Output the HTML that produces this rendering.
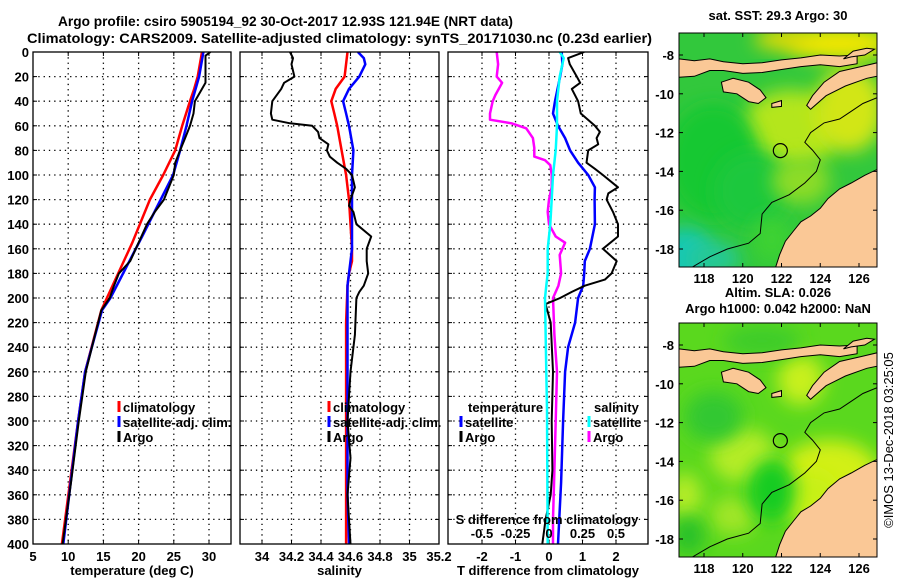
<!DOCTYPE html>
<html><head><meta charset="utf-8"><style>
html,body{margin:0;padding:0;background:#fff;}
svg{display:block;font-family:"Liberation Sans",Arial,sans-serif;font-weight:bold;}
</style></head><body>
<svg id="fig" width="900" height="580" viewBox="0 0 900 580" xmlns="http://www.w3.org/2000/svg">
<defs>
<filter id="blur8" x="-50%" y="-50%" width="200%" height="200%"><feGaussianBlur stdDeviation="9"/></filter>
<clipPath id="clipMap1"><rect x="679" y="33" width="198" height="234"/></clipPath>
<clipPath id="clipMap2"><rect x="679" y="323" width="198" height="234"/></clipPath>
<clipPath id="clipP1"><rect x="33" y="52" width="198" height="492"/></clipPath>
<clipPath id="clipP2"><rect x="240" y="52" width="199" height="492"/></clipPath>
<clipPath id="clipP3"><rect x="448" y="52" width="200" height="492"/></clipPath>
</defs>
<text x="58" y="26" font-size="14" textLength="455" lengthAdjust="spacingAndGlyphs">Argo profile: csiro 5905194_92 30-Oct-2017 12.93S 121.94E (NRT data)</text>
<text x="27" y="43" font-size="14" textLength="625" lengthAdjust="spacingAndGlyphs">Climatology: CARS2009. Satellite-adjusted climatology: synTS_20171030.nc (0.23d earlier)</text>
<g id="root"></g>
</svg>
<script>
// ---------- data (depth in m) ----------
const tClimDepth = [0,20,30,40,60,80,100,120,155,200,210,260,300,400];
const tClimVal   = [29.0,28.4,27.9,27.3,26.2,25.2,23.5,21.6,19.1,15.5,14.7,12.4,11.4,9.1];
const tSatDepth  = [0,20,40,60,80,100,150,200,210,260,300,400];
const tSatVal    = [29.2,28.6,27.6,26.8,25.9,24.9,20.5,16.0,14.8,12.4,11.4,9.3];
const tArgoDepth = [0,3,10,20,25,30,40,50,60,70,80,90,100,110,120,130,140,155,170,180,190,200,210,230,260,300,350,400];
const tArgoVal   = [30.2,29.5,29.5,29.5,29.5,29.0,28.0,27.8,27.3,26.6,25.9,25.2,25.0,24.3,23.6,22.3,21.2,20.0,18.8,17.2,16.5,15.9,14.7,13.8,12.5,11.5,10.4,9.2];

const sClimDepth = [0,20,30,40,50,60,80,100,120,140,160,170,180,190,220,300,400];
const sClimVal   = [34.58,34.56,34.50,34.47,34.49,34.51,34.54,34.57,34.59,34.60,34.61,34.61,34.59,34.58,34.57,34.57,34.57];
const sSatDepth  = [0,5,10,20,30,40,50,60,80,100,160,180,190,250,360,400];
const sSatVal    = [34.65,34.69,34.70,34.66,34.59,34.55,34.57,34.59,34.62,34.61,34.61,34.59,34.58,34.58,34.58,34.59];
const sArgoDepth = [0,5,10,20,25,30,40,50,55,58,60,65,70,75,80,85,90,95,100,110,120,125,130,140,150,160,170,180,190,195,200,230,260,300,330,360,380,400];
const sArgoVal   = [34.19,34.21,34.20,34.22,34.15,34.13,34.07,34.06,34.07,34.19,34.34,34.38,34.39,34.45,34.44,34.46,34.51,34.57,34.61,34.63,34.60,34.59,34.62,34.64,34.74,34.71,34.71,34.72,34.69,34.66,34.64,34.63,34.60,34.58,34.60,34.58,34.59,34.60];

const dtSatDepth  = [0,10,20,40,50,60,70,80,90,100,110,120,140,160,170,180,190,200,220,240,260,300,350,400];
const dtSatVal    = [0.38,0.40,0.33,0.18,0.12,0.27,0.48,0.63,0.87,1.17,1.37,1.36,1.37,1.22,1.07,1.05,1.02,0.87,0.78,0.57,0.48,0.42,0.36,0.27];
const dtArgoDepth = [0,5,10,20,25,30,40,50,60,65,70,75,80,90,95,100,110,115,120,130,140,150,160,170,180,185,190,195,200,205,220,260,300,340,360,380,400];
const dtArgoVal   = [1.05,0.57,0.62,0.83,0.93,0.68,0.87,0.95,1.37,1.52,1.42,1.47,1.17,1.12,1.37,1.61,2.06,1.77,1.72,1.91,2.06,2.06,1.61,2.02,1.87,1.67,1.07,0.68,0.33,-0.10,0.05,0.12,0.08,0.10,0.05,-0.10,-0.20];
const dsSatDepth  = [0,5,20,40,60,80,100,120,140,160,180,190,200,260,290,400];
const dsSatVal    = [0.08,0.11,0.08,0.06,0.06,0.05,0.03,0.02,0.01,-0.01,-0.01,-0.02,-0.03,-0.02,-0.015,-0.01];
const dsArgoDepth = [0,10,20,25,35,40,50,55,58,62,70,78,85,88,92,100,110,120,130,140,150,155,165,180,190,200,230,260,300,340,380,400];
const dsArgoVal   = [-0.39,-0.38,-0.39,-0.35,-0.40,-0.42,-0.44,-0.44,-0.28,-0.17,-0.12,-0.11,-0.11,-0.03,0.01,0.02,0.02,0.0,-0.01,0.0,0.05,0.12,0.08,0.09,0.07,0.03,0.04,0.06,0.05,0.04,0.03,0.03];

const depthTicks = [0,20,40,60,80,100,120,140,160,180,200,220,240,260,280,300,320,340,360,380,400];
const tTicks = [5,10,15,20,25,30];
const sTicks = [34,34.2,34.4,34.6,34.8,35,35.2];
const dtTicks = [-2,-1,0,1,2];
const dsTicks = [-0.5,-0.25,0,0.25,0.5];
const dsTickLabels = ["-0.5","-0.25","0","0.25","0.5"];
const lonTicks = [118,120,122,124,126];
const latTicks = [-8,-10,-12,-14,-16,-18];

// ---------- helpers ----------
const NS="http://www.w3.org/2000/svg";
const root=document.getElementById('root');
function mk(tag,attrs,parent){const e=document.createElementNS(NS,tag);for(const k in attrs)e.setAttribute(k,attrs[k]);(parent||root).appendChild(e);return e;}
const Y0=52,Y1=544;
function yD(d){return Y0+(d/400)*(Y1-Y0);}
function linScale(v0,v1,p0,p1){return v=>p0+(v-v0)/(v1-v0)*(p1-p0);}
const xT=linScale(5,30,33,209);
const xS=linScale(34,35.2,262,439);
const xDT=linScale(0,1,549,582.5);
const xDS=v=>xDT(v*4);

function panel(name,x0,x1,xs,ticks,tickLabels,clip,xlabel,yLabels){
  const g=mk('g',{});
  
  
  ticks.forEach(t=>{const x=xs(t); if(x>x0+1&&x<x1-1){const l=mk('line',{x1:x,y1:Y0,x2:x,y2:Y1,stroke:'#000','stroke-width':1.3,'stroke-dasharray':'1.3 4'},g);
    }});
  depthTicks.forEach(d=>{const y=yD(d); if(d>0&&d<400){const l=mk('line',{x1:x0,y1:y,x2:x1,y2:y,stroke:'#000','stroke-width':1.3,'stroke-dasharray':'1.3 4'},g);
    }
    mk('line',{x1:x0,y1:y,x2:x0+4,y2:y,stroke:'#000'},g);mk('line',{x1:x1-4,y1:y,x2:x1,y2:y,stroke:'#000'},g);
    if(yLabels){const t=mk('text',{x:x0-4,y:y+5,'font-size':13,'text-anchor':'end'},g);t.textContent=d;
      }
  });
  ticks.forEach((t,i)=>{const x=xs(t);mk('line',{x1:x,y1:Y1,x2:x,y2:Y1-4,stroke:'#000'},g);mk('line',{x1:x,y1:Y0,x2:x,y2:Y0+4,stroke:'#000'},g);
    const tx=mk('text',{x:x,y:Y1+17,'font-size':13,'text-anchor':'middle'},g);tx.textContent=tickLabels[i];
    });
  const xl=mk('text',{x:(x0+x1)/2,y:575,'font-size':13,'text-anchor':'middle'},g);xl.textContent=xlabel;
  
  return g;
}
function series(g,name,depths,vals,xs,color,w,clip){
  const pts=depths.map((d,i)=>xs(vals[i]).toFixed(1)+','+yD(d).toFixed(1)).join(' ');
  const p=mk('polyline',{points:pts,fill:'none',stroke:color,'stroke-width':w,'stroke-linejoin':'round','clip-path':'url(#'+clip+')'},g);
  
  
}
function frame(g,x0,x1){const r=mk('rect',{x:x0,y:Y0,width:x1-x0,height:Y1-Y0,fill:'none',stroke:'#000','stroke-width':1.3},g);
  }
function legendEntry(g,x,y,color,label,name){
  const lg=mk('g',{},g);
  
  
  mk('line',{x1:x,y1:y-11,x2:x,y2:y,stroke:color,'stroke-width':3},lg);
  const t=mk('text',{x:x+4,y:y,'font-size':13},lg);t.textContent=label;
}

const g1=panel('temperature-panel',33,231,xT,tTicks,tTicks.map(String),'clipP1','temperature (deg C)',true);
series(g1,'temperature-climatology-line',tClimDepth,tClimVal,xT,'#f00',2.5,'clipP1');
series(g1,'temperature-satellite-adj-line',tSatDepth,tSatVal,xT,'#00f',2.5,'clipP1');
series(g1,'temperature-argo-line',tArgoDepth,tArgoVal,xT,'#000',2,'clipP1');
frame(g1,33,231);
legendEntry(g1,119,412,'#f00','climatology','legend-climatology');
legendEntry(g1,119,427,'#00f','satellite-adj. clim.','legend-satellite-adj');
legendEntry(g1,119,442,'#000','Argo','legend-argo');

const g2=panel('salinity-panel',240,439,xS,sTicks,sTicks.map(String),'clipP2','salinity',false);
series(g2,'salinity-climatology-line',sClimDepth,sClimVal,xS,'#f00',2.5,'clipP2');
series(g2,'salinity-satellite-adj-line',sSatDepth,sSatVal,xS,'#00f',2.5,'clipP2');
series(g2,'salinity-argo-line',sArgoDepth,sArgoVal,xS,'#000',2,'clipP2');
frame(g2,240,439);
legendEntry(g2,329,412,'#f00','climatology','legend-climatology');
legendEntry(g2,329,427,'#00f','satellite-adj. clim.','legend-satellite-adj');
legendEntry(g2,329,442,'#000','Argo','legend-argo');

const g3=panel('difference-panel',448,648,xDT,dtTicks,dtTicks.map(String),'clipP3','T difference from climatology',false);
series(g3,'salinity-argo-diff-line',dsArgoDepth,dsArgoVal,xDS,'#f0f',2.5,'clipP3');
series(g3,'temperature-satellite-diff-line',dtSatDepth,dtSatVal,xDT,'#00f',2.5,'clipP3');
series(g3,'temperature-argo-diff-line',dtArgoDepth,dtArgoVal,xDT,'#000',2,'clipP3');
series(g3,'salinity-satellite-diff-line',dsSatDepth,dsSatVal,xDS,'#0ff',2.5,'clipP3');
frame(g3,448,648);
{const t=mk('text',{x:468,y:412,'font-size':13},g3);t.textContent='temperature';}
legendEntry(g3,461,427,'#00f','satellite','legend-temperature-satellite');
legendEntry(g3,461,442,'#000','Argo','legend-temperature-argo');
{const t=mk('text',{x:594,y:412,'font-size':13},g3);t.textContent='salinity';}
legendEntry(g3,589,427,'#0ff','satellite','legend-salinity-satellite');
legendEntry(g3,589,442,'#f0f','Argo','legend-salinity-argo');
{const t=mk('text',{x:547,y:524,'font-size':13,'text-anchor':'middle'},g3);t.textContent='S difference from climatology';}
dsTicks.forEach((v,i)=>{const t=mk('text',{x:xDS(v),y:538,'font-size':13,'text-anchor':'middle'},g3);t.textContent=dsTickLabels[i];
  });

// ---------- maps ----------
const MX0=679,MX1=877;
function lonX(l){return 704+(l-118)*19.375;}
function latY(top,l){return top+22+(-8-l)*19.4;}
const sumbawa=[[116.7,-8.2],[117.5,-8.3],[118.3,-8.2],[119,-8.35],[120,-8.45],[121,-8.4],[122,-8.25],[123,-8.15],[124,-8.0],[125,-8.05],[125.9,-8.0],[125.9,-8.45],[125,-8.6],[124,-8.5],[123,-8.6],[122,-8.75],[121,-8.9],[120,-8.95],[119,-8.8],[118.3,-8.8],[117.5,-9.1],[116.7,-9.15]];
const sumba=[[118.9,-9.4],[119.5,-9.2],[120.3,-9.4],[120.9,-9.8],[121.2,-10.2],[120.8,-10.5],[120.3,-10.4],[119.7,-10.0],[119.0,-9.9]];
const timor=[[123.3,-10.6],[123.6,-10.1],[124.2,-9.4],[125.0,-8.85],[126.1,-8.6],[126.93,-8.4],[126.93,-9.1],[126.4,-9.2],[125.3,-9.6],[124.3,-10.1],[123.5,-10.8]];
const wetar=[[125.2,-8.2],[125.7,-7.8],[126.4,-7.65],[126.8,-7.7],[126.3,-8.0],[125.6,-8.1]];
const savu=[[121.5,-10.5],[122.0,-10.35],[122.0,-10.65],[121.5,-10.7]];
const australia=[[121.7,-18.93],[121.9,-18.3],[122.2,-17.6],[122.6,-17.1],[123.0,-16.6],[123.5,-16.3],[124.0,-15.9],[124.4,-15.4],[125.0,-14.9],[125.6,-14.6],[126.3,-14.2],[126.93,-13.9],[126.93,-18.93]];
const contour200=[[117.4,-18.93],[118.3,-18.4],[119.2,-18.0],[120.3,-17.7],[120.9,-17.2],[121.0,-16.2],[121.5,-15.6],[122.4,-15.2],[123.2,-14.6],[123.8,-14.0],[124.0,-13.4],[123.6,-12.9],[123.2,-12.5],[123.5,-12.0],[124.2,-11.5],[125.0,-11.3],[125.6,-10.9],[126.2,-10.5],[126.93,-10.2]];

function drawMap(name,top,title1,title2,blobs,base,clip){
  const g=mk('g',{});
  
  
  const cg=mk('g',{'clip-path':'url(#'+clip+')'},g);
  mk('rect',{x:MX0,y:top,width:MX1-MX0,height:234,fill:base},cg);
  blobs.forEach(b=>{mk('ellipse',{cx:lonX(b[0]),cy:latY(top,b[1]),rx:b[2]*19.4,ry:b[3]*19.4,fill:b[4],filter:'url(#blur8)'},cg);});
  const poly=(pts,fill,stroke,sw,nm)=>{const p=mk('polygon',{points:pts.map(q=>lonX(q[0]).toFixed(1)+','+latY(top,q[1]).toFixed(1)).join(' '),fill:fill,stroke:stroke,'stroke-width':sw},cg);
    };
  poly(sumbawa,'#fac896','#000',1,'land-sumbawa-flores');
  poly(sumba,'#fac896','#000',1,'land-sumba');
  poly(timor,'#fac896','#000',1,'land-timor');
  poly(wetar,'#fac896','#000',1,'land-wetar');
  poly(savu,'#fac896','#000',1,'land-savu');
  poly(australia,'#fac896','#000',1,'land-australia');
  const c=mk('polyline',{points:contour200.map(q=>lonX(q[0]).toFixed(1)+','+latY(top,q[1]).toFixed(1)).join(' '),fill:'none',stroke:'#000','stroke-width':1},cg);
  
  const pc=mk('circle',{cx:lonX(121.94),cy:latY(top,-12.93),r:7,fill:'none',stroke:'#000','stroke-width':1.2},cg);
  
  mk('rect',{x:MX0,y:top,width:MX1-MX0,height:234,fill:'none',stroke:'#000','stroke-width':1},g);
  lonTicks.forEach(l=>{const x=lonX(l);mk('line',{x1:x,y1:top,x2:x,y2:top+4,stroke:'#000'},g);mk('line',{x1:x,y1:top+234,x2:x,y2:top+230,stroke:'#000'},g);
    const t=mk('text',{x:x,y:top+250,'font-size':13,'text-anchor':'middle'},g);t.textContent=l;
    });
  latTicks.forEach(l=>{const y=latY(top,l);mk('line',{x1:MX0,y1:y,x2:MX0+4,y2:y,stroke:'#000'},g);mk('line',{x1:MX1-4,y1:y,x2:MX1,y2:y,stroke:'#000'},g);
    const t=mk('text',{x:MX0-5,y:y+5,'font-size':13,'text-anchor':'end'},g);t.textContent=l;
    });
  const t1=mk('text',{x:778,y:top-(title2?26:13),'font-size':13,'text-anchor':'middle'},g);t1.textContent=title1;
  
  if(title2){const t2=mk('text',{x:778,y:top-10,'font-size':13,'text-anchor':'middle'},g);t2.textContent=title2;
    }
}
drawMap('sst-map',33,'sat. SST: 29.3 Argo: 30',null,[
 [122.5,-11.8,2.6,2.0,'#b4e61e'],[125.5,-10.8,1.8,2.2,'#d2e614'],[125,-7.4,2.8,0.9,'#f0e600'],[122,-7.2,1.4,0.5,'#f0dc00'],
 [118.5,-13.5,2.4,3.0,'#14c832'],[120.5,-15,2,2,'#1ec83c'],[117,-18.5,1.6,1.6,'#14c8b4'],[118.5,-18.5,1.4,0.8,'#28c896'],[123,-14.5,1.5,1.2,'#8cdc28'],[121.5,-17.5,1.0,1.2,'#3cd232']
],'#32c83c','clipMap1');
drawMap('sla-map',323,'Altim. SLA: 0.026','Argo h1000: 0.042 h2000: NaN',[
 [120,-13.7,1.7,1.4,'#b4ec28'],[117,-15.8,0.9,1.2,'#b4ec28'],[119.5,-16.8,1.2,1.0,'#a0e628'],[123,-9.8,1.2,1.3,'#c8f01e'],[124.5,-14.5,2.5,1.6,'#d2f014'],[123.5,-16,1.5,1.5,'#c8f014'],
 [118.5,-11.7,1.5,1.3,'#32c832'],[121.5,-15.5,1.2,1.6,'#14cc20'],[117.2,-17.8,0.8,1.0,'#28c02a'],[121,-7.8,2,0.8,'#3ccc2a']
],'#5ad81e','clipMap2');

const cr=mk('text',{x:0,y:0,'font-size':13,'font-weight':'normal','text-anchor':'middle',transform:'translate(893,440) rotate(-90)'});
cr.textContent='©IMOS 13-Dec-2018 03:25:05';


</script>
</body></html>
